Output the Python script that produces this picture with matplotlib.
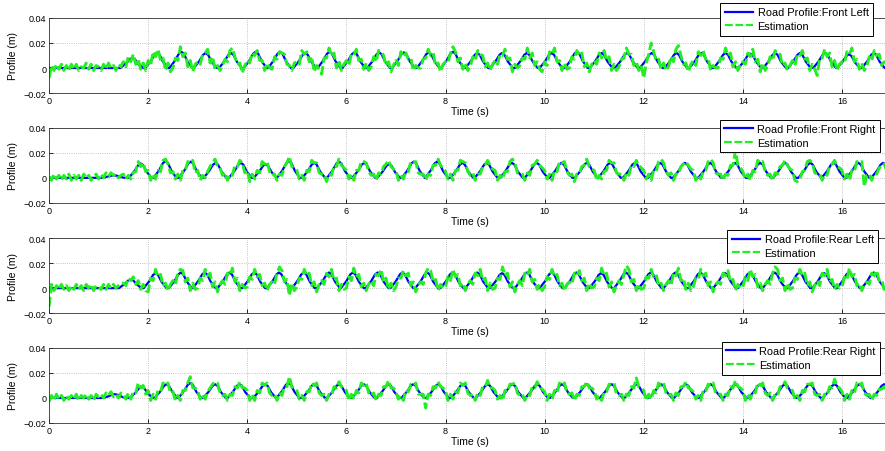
import numpy as np
import matplotlib
matplotlib.use("Agg")
import matplotlib.pyplot as plt

plt.rcParams["font.family"] = ["Liberation Sans", "DejaVu Sans"]

# road profile bumps per wheel: peak time (s) and peak height (mm)
fl_peak_t = [1.68, 2.18, 2.67, 3.16, 3.67, 4.17, 4.66, 5.17, 5.66, 6.16, 6.66, 7.16, 7.66, 8.15,
             8.64, 9.14, 9.64, 10.14, 10.65, 11.15, 11.66, 12.16, 12.66, 13.16, 13.65, 14.15,
             14.65, 15.15, 15.66, 16.14, 16.64]
fl_peak_h = [8, 12, 13, 12, 12, 13, 13, 12, 13, 12.5, 12.5, 12.5, 12.5, 13, 12, 12, 12, 12, 13,
             12, 12, 12, 12, 12, 12, 11.5, 12, 12, 12, 11, 12]
fr_peak_t = [1.31, 1.85, 2.35, 2.86, 3.36, 3.87, 4.37, 4.84, 5.35, 5.85, 6.36, 6.86, 7.36, 7.83,
             8.34, 8.83, 9.34, 9.84, 10.34, 10.85, 11.32, 11.82, 12.33, 12.83, 13.34, 13.84,
             14.35, 14.85, 15.36, 15.83, 16.33, 16.83]
fr_peak_h = [2, 11.5, 13.5, 13, 12, 12, 11, 13.5, 12, 13, 12, 11, 13, 13, 12, 12, 12, 12, 12,
             12, 12, 12, 12, 12, 12, 12, 12, 12, 12, 12, 12, 12]
rl_peak_t = [1.65, 2.15, 2.66, 3.14, 3.64, 4.14, 4.64, 5.14, 5.65, 6.13, 6.63, 7.13, 7.63, 8.14,
             8.64, 9.14, 9.64, 10.14, 10.64, 11.14, 11.64, 12.14, 12.64, 13.14, 13.64, 14.14,
             14.64, 15.14, 15.64, 16.14, 16.64]
rl_peak_h = [7, 12, 12.5, 12.5, 12.5, 12.5, 12.5, 12.5, 12.5, 12.5, 12.5, 12.5, 12.5, 12.5,
             12.5, 12, 12.5, 12.5, 12.5, 12, 12.5, 12.5, 12.5, 12.5, 12, 12.5, 12.5, 12.5, 12,
             12.5, 12.5]
rr_peak_t = [1.33, 1.87, 2.37, 2.85, 3.35, 3.84, 4.36, 4.83, 5.35, 5.85, 6.35, 6.85, 7.35, 7.85,
             8.35, 8.85, 9.35, 9.85, 10.35, 10.85, 11.35, 11.85, 12.35, 12.85, 13.35, 13.85,
             14.35, 14.85, 15.35, 15.85, 16.35, 16.85]
rr_peak_h = [3, 9, 11, 12, 11, 11, 11, 12, 11, 11, 11, 11, 11, 11, 11, 11, 11, 11, 11, 11, 11,
             11, 11, 11, 11, 11, 11, 11, 11, 11, 11, 11]

# shape of one bump: time offsets from the peak (s) and fraction of peak height
bump_dt = [-0.24, -0.13, -0.05, 0.0, 0.05, 0.12, 0.22]
bump_rel = [0.0, 0.45, 0.88, 1.0, 0.88, 0.42, 0.0]

# estimated profile (mm), sampled every 0.05 s, one row per 0.5 s
est_dt = 0.05
fl_est = [
    -8, 2, -2, 3, -1, 3, -2, 2, -2, 3,
    -1, 3, -2, 1, 0, 4, -1, 3, -2, 2,
    1, -2, 3, -1, 4, 0, 2, -2, 3, 1,
    5, 1, 9, 5, 11, 3, 7, -1, 4, -2,
    6, 2, 13, 9, 15, 6, 8, -2, 4, -3,
    0, 8, 6, 17, 9, 12, 1, 6, -3, 3,
    5, 3, 11, 12, 15, 4, 9, -1, 2, -2,
    2, 7, 5, 14, 16, 9, 3, 4, -4, 2,
    6, 4, 12, 10, 14, 6, 6, -2, 4, 0,
    -1, 9, 7, 13, 12, 11, 3, 2, -2, 4,
    5, 3, 14, 11, 13, 5, 9, -3, 2, -1,
    -5, 8, 8, 16, 9, 12, 0, 6, -2, 3,
    6, 2, 11, 10, 15, 6, 7, -1, 4, -2,
    1, 9, 5, 14, 13, 10, 2, 5, -3, 2,
    7, 2, 13, 9, 12, 7, 8, -2, 2, 0,
    0, 7, 8, 15, 10, 12, 2, 4, -3, 3,
    5, 4, 12, 17, 13, 5, 8, -1, 4, -2,
    1, 9, 6, 14, 11, 10, 1, 4, -2, 3,
    6, 3, 11, 10, 15, 7, 8, -3, 3, 0,
    2, 8, 7, 16, 8, 12, 2, 5, -1, -3,
    5, 2, 13, 11, 16, 5, 6, -2, 4, -1,
    0, 9, 7, 14, 10, 12, 1, 4, -3, 3,
    6, 3, 12, 8, 14, 6, 9, -2, 3, -2,
    1, 7, 8, 16, 11, 11, 2, 5, -2, 2,
    -8, 4, 11, 20, 13, 6, 7, -1, 4, -2,
    1, 9, 5, 15, 18, 10, 3, 4, -3, 3,
    6, 2, 13, 10, 14, 7, 8, -2, 2, 0,
    0, 8, 7, 16, 10, 12, 1, 5, -2, 3,
    5, 3, 12, 9, 15, 5, 7, -3, 4, -2,
    2, 9, 6, 14, 11, 11, 2, 4, -2, 2,
    6, 2, 11, 10, 14, 7, 8, -2, 3, -1,
    -6, 8, 8, 15, 9, 12, 1, 6, -2, 3,
    5, 4, 13, 11, 16, 5, 7, -1, 4, -2,
    1, 9, 6, 14, 10, 11, 2, 5, 4,
]
fr_est = [
    1, -2, 3, -1, 2, -2, 2, -1, 3, -2,
    2, -1, 2, -2, 3, 0, 2, -2, 1, 3,
    -1, 3, 0, 4, 1, 4, 2, 3, 0, 2,
    3, -1, 2, -1, 4, 5, 13, 9, 12, 5,
    6, -2, 3, -1, 6, 5, 14, 15, 11, 4,
    5, -1, 3, -2, 6, 6, 13, 12, 14, 4,
    6, -2, 2, 0, 5, 9, 12, 15, 9, 8,
    2, 4, -2, 3, 2, 10, 9, 14, 12, 4,
    6, -3, 3, -1, 6, 4, 13, 11, 13, 5,
    2, 3, -2, 3, 2, 9, 12, 17, 9, 8,
    6, -1, 2, -2, 6, 5, 14, 12, 12, 4,
    3, 3, -3, 3, 2, 10, 9, 15, 10, 8,
    6, -1, 3, -2, 6, 6, 13, 13, 12, 5,
    2, 3, -2, 4, 3, 9, 11, 14, 9, 7,
    6, -2, 2, -1, 5, 5, 13, 12, 13, 4,
    3, 3, -2, 3, 2, 10, 10, 15, 10, 8,
    5, -1, 3, -2, 6, 6, 14, 13, 12, 5,
    2, 4, -2, 3, 3, 9, 10, 14, 10, 7,
    6, -2, 2, -1, 5, 5, 13, 15, 12, 4,
    3, 3, -2, 4, 2, 10, 11, 14, 10, 8,
    6, -1, 3, -2, 6, 5, 13, 12, 13, 5,
    2, 3, -3, 3, 3, 9, 10, 15, 9, 7,
    6, -2, 2, -1, 5, 6, 14, 12, 12, 4,
    3, 3, -2, 4, 2, 10, 9, 14, 10, 8,
    6, -1, 3, -2, 6, 5, 13, 15, 12, 5,
    2, 4, -2, 3, 3, 9, 11, 13, 10, 7,
    6, -2, 2, -1, 5, 6, 13, 15, 12, 4,
    3, 3, -2, 3, 2, 10, 10, 22, 10, 8,
    5, -1, 3, -2, 6, 5, 14, 12, 13, 5,
    2, 3, -2, 4, 3, 9, 10, 14, 10, 7,
    6, -2, -3, -1, 5, 6, 13, 14, 12, 4,
    3, 3, -2, 3, 2, 10, 11, 14, 9, 8,
    6, -1, 3, -2, 6, 5, 13, 12, 13, -7,
    2, 3, -2, 3, 3, 8, 9, 11, 6,
]
rl_est = [
    -15, 3, -2, 2, -1, 3, -1, 2, -2, 2,
    -1, 3, -1, 2, -2, 3, 0, 3, -2, 2,
    1, -1, 3, -1, 3, 0, 3, 0, 2, 4,
    4, 2, 8, 6, 9, 3, 6, -1, 3, -2,
    -3, 8, 6, 15, 9, 11, 2, 4, -2, 3,
    6, 3, 12, 15, 14, 5, 8, -2, 4, -1,
    0, 8, 6, 15, 10, 12, 1, 5, -3, 3,
    6, 3, 12, 10, 16, 5, 8, -2, 3, 0,
    1, 9, 7, 15, 9, 11, 2, 4, -2, 3,
    5, 3, 12, 17, 14, 5, 7, -6, 4, -2,
    1, 8, 7, 15, 10, 12, 2, 5, -3, 3,
    6, 3, 12, 9, 15, 6, 8, -2, 3, -1,
    0, 9, 6, 16, 9, 11, 1, 4, -2, 3,
    6, 2, 11, 10, 15, 5, 8, -1, 4, -2,
    1, 8, 8, 14, 10, 12, 2, 5, -3, 2,
    5, 3, 12, 16, 14, 5, 7, -2, 3, 0,
    1, 9, 6, 15, 9, 11, 2, 4, -2, 3,
    6, 3, 12, 10, 15, 6, 8, -2, 4, -1,
    0, 8, 7, 17, 10, 12, 1, 5, -3, 3,
    6, 2, 12, 10, 15, 5, 7, -1, 3, -2,
    1, 9, 7, 15, 9, 11, 2, 4, -2, 3,
    5, 3, 12, 10, 14, 6, 8, -2, 4, 0,
    1, 8, 6, 16, 10, 12, 1, 5, -3, 2,
    6, 3, 11, 18, 15, 5, 7, -2, 3, -1,
    0, 9, 8, 15, 9, 11, 2, 4, -2, 3,
    6, 2, 12, 10, 16, 6, 8, -1, 4, -2,
    1, 8, 7, 15, 10, 12, 2, 5, -3, 3,
    5, 3, 12, 10, 14, 5, 7, -2, 3, 0,
    1, 9, 6, 15, 9, 11, 1, 4, -2, 3,
    6, 3, 12, 17, 15, 6, 8, -2, 4, -1,
    0, 8, 7, 15, 10, 12, 2, 5, -3, 2,
    6, 2, 12, 10, 15, 5, 7, -1, 3, 0,
    1, 9, 7, 16, 9, 11, 2, 4, -2, 3,
    5, 3, 12, 10, 14, 6, 7, -1, 4,
]
rr_est = [
    -3, 2, -2, 3, -1, 2, -2, 2, -1, 2,
    -1, 3, -2, 2, 0, 3, -1, 2, -2, 3,
    1, 3, 0, 4, 2, 5, 1, 3, 0, 4,
    3, -1, 4, -1, 5, 4, 12, 8, 10, 3,
    6, -2, 3, -1, 6, 5, 12, 10, 12, 4,
    5, -2, 2, -2, 6, 6, 12, 17, 8, 8,
    6, -1, 3, -1, 5, 8, 11, 13, 12, 4,
    2, 3, -2, 3, 2, 9, 8, 13, 8, 8,
    6, -2, 3, -2, 6, 4, 12, 10, 12, 4,
    2, 3, -2, 4, 2, 9, 9, 17, 9, 8,
    6, -1, 2, -2, 5, 5, 12, 10, 12, 4,
    2, 3, -2, 3, 2, 9, 8, 13, 9, 8,
    6, -2, 3, -1, 6, 4, 12, 10, 12, 4,
    2, 4, -2, 3, 2, 9, 9, 14, 8, 8,
    5, -1, 2, -2, 6, 5, 11, 10, 12, 3,
    3, 3, -8, 3, 2, 9, 8, 13, 9, 8,
    6, -2, 3, -1, 5, 4, 12, 10, 12, 4,
    2, 3, -2, 4, 2, 9, 9, 14, 8, 8,
    6, -1, 2, -2, 6, 5, 11, 11, 12, 4,
    2, 3, -2, 3, 2, 9, 8, 13, 9, 7,
    5, -2, 3, -1, 6, 4, 12, 10, 12, 4,
    3, 4, -2, 3, 2, 9, 9, 13, 8, 8,
    6, -1, 2, -2, 5, 5, 11, 11, 12, 3,
    2, 3, -2, 3, 2, 9, 8, 16, 9, 8,
    6, -2, 3, -1, 6, 4, 12, 10, 12, 4,
    2, 3, -2, 4, 2, 9, 9, 13, 8, 7,
    5, -1, 2, -2, 6, 5, 11, 10, 12, 4,
    3, 3, -2, 3, 2, 9, 8, 14, 9, 8,
    6, -2, 3, -1, 5, 4, 12, 10, 12, 4,
    2, 4, -2, 3, 2, 9, 9, 13, 8, 7,
    6, -1, 2, -2, 6, 5, 11, 11, 12, 3,
    2, 3, -2, 3, 2, 9, 8, 15, 9, 8,
    5, -2, 3, -1, 6, 4, 12, 10, 12, 4,
    2, 3, -2, 3, 2, 7, 7, 9, 5,
]

wheels = ["Front Left", "Front Right", "Rear Left", "Rear Right"]
peak_t = [fl_peak_t, fr_peak_t, rl_peak_t, rr_peak_t]
peak_h = [fl_peak_h, fr_peak_h, rl_peak_h, rr_peak_h]
est = [fl_est, fr_est, rl_est, rr_est]
xticks = [0, 2, 4, 6, 8, 10, 12, 14, 16]
yticks = [-0.02, 0, 0.02, 0.04]
ytick_labels = ["\u22120.02", "0", "0.02", "0.04"]
t_end = 17.0


def profile_vertices(tp, hp):
    # polyline through the bump vertices, flat at zero in between
    t, y = [0.0], [0.0]
    for p, h in zip(tp, hp):
        for dt, r in zip(bump_dt, bump_rel):
            t.append(p + dt)
            y.append(h * r)
    t.append(t_end)
    y.append(0.0)
    return np.array(t), np.array(y) / 1000.0


fig = plt.figure(figsize=(8.85, 4.52), dpi=100)
bottoms = [0.792, 0.549, 0.305, 0.062]
legend_anchor = [(0.978, 1.20), (0.986, 1.107), (0.984, 1.107), (0.986, 1.08)]

for i, name in enumerate(wheels):
    ax = fig.add_axes([0.0554, bottoms[i], 0.952, 0.166])
    tb, yb = profile_vertices(peak_t[i], peak_h[i])
    ax.plot(tb, yb, color="#0000ff", lw=1.6, label=f"Road Profile:{name}")
    te = np.arange(len(est[i])) * est_dt
    ax.plot(te, np.array(est[i]) / 1000.0, color="#22ee22", lw=2.1, ls="--",
            dashes=(3.5, 1.2), label="Estimation")
    ax.set_xlim(0, t_end)
    ax.set_ylim(-0.02, 0.04)
    ax.set_xticks(xticks)
    ax.set_yticks(yticks)
    ax.set_yticklabels(ytick_labels)
    ax.tick_params(direction="in", labelsize=6.5, length=3, width=0.6, pad=2)
    ax.grid(True, ls=":", color="#b0b0b0", lw=0.6)
    for s in ax.spines.values():
        s.set_linewidth(0.6)
        s.set_color("#333333")
    ax.set_xlabel("Time (s)", fontsize=7.5, labelpad=1)
    ax.set_ylabel("Profile (m)", fontsize=7.5, labelpad=4)
    leg = ax.legend(loc="upper right", bbox_to_anchor=legend_anchor[i], borderaxespad=0,
                    fontsize=7.9, fancybox=False, framealpha=1, edgecolor="black",
                    handlelength=2.6, borderpad=0.4, labelspacing=0.35, handletextpad=0.4)
    leg.get_frame().set_linewidth(0.7)
    for h in leg.get_lines():
        h.set_linewidth(1.6)

fig.savefig("out.png", dpi=100)
